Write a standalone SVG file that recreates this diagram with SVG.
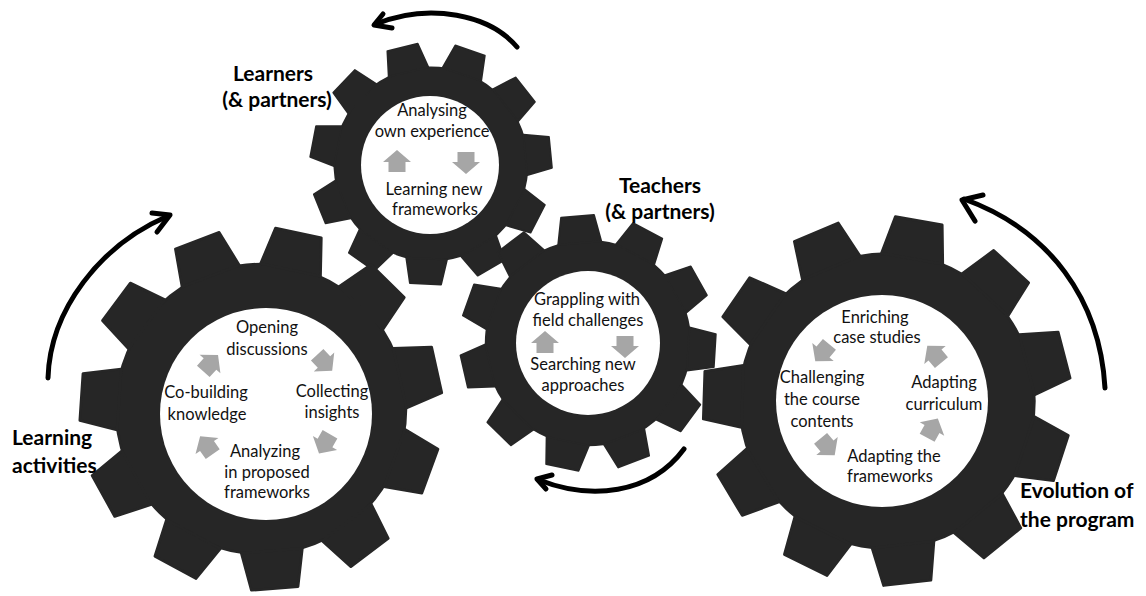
<svg xmlns="http://www.w3.org/2000/svg" width="1146" height="596" viewBox="0 0 1146 596">
<style>
.gear{fill:#262626;stroke:#262626;stroke-width:1.5;stroke-linejoin:round}
.hole{fill:#ffffff}
.t{font-family:Lato,"Open Sans","Liberation Sans",sans-serif;font-size:16.5px;fill:#111;text-anchor:middle}
.lab{font-family:Lato,"Open Sans","Liberation Sans",sans-serif;font-size:21px;font-weight:bold;fill:#000}
.ga{fill:#a6a6a6}
.arc{fill:none;stroke:#000;stroke-width:5;stroke-linecap:round;stroke-linejoin:round}
</style>
<defs>
<polygon id="tooth" points="-17,-79 -13,-100 13,-100 17,-79"/>
<g id="gearshape">
<circle r="80.5"/>
<use href="#tooth"/>
<use href="#tooth" transform="rotate(32.727)"/>
<use href="#tooth" transform="rotate(65.455)"/>
<use href="#tooth" transform="rotate(98.182)"/>
<use href="#tooth" transform="rotate(130.909)"/>
<use href="#tooth" transform="rotate(163.636)"/>
<use href="#tooth" transform="rotate(196.364)"/>
<use href="#tooth" transform="rotate(229.091)"/>
<use href="#tooth" transform="rotate(261.818)"/>
<use href="#tooth" transform="rotate(294.545)"/>
<use href="#tooth" transform="rotate(327.273)"/>
</g>
<path id="garrow" d="M0,-12 L14,0 L8.5,0 L8.5,10 L-8.5,10 L-8.5,0 L-14,0 Z"/>
</defs>

<g id="gear-learners">
<use href="#gearshape" class="gear" transform="translate(431,164) rotate(19) scale(1.2)"/>
<circle class="hole" cx="430" cy="165" r="69"/>
<text class="t" x="432" y="116">Analysing</text>
<text class="t" x="432" y="137">own experience</text>
<use href="#garrow" class="ga" transform="translate(397,162)"/>
<use href="#garrow" class="ga" transform="translate(466,162) rotate(180)"/>
<text class="t" x="434" y="195">Learning new</text>
<text class="t" x="435" y="215">frameworks</text>
</g>

<g id="gear-activities">
<use href="#gearshape" class="gear" transform="translate(261,409) rotate(12) scale(1.8)"/>
<circle class="hole" cx="266" cy="414" r="106"/>
<text class="t" x="267" y="333">Opening</text>
<text class="t" x="267" y="355">discussions</text>
<text class="t" x="206" y="398">Co-building</text>
<text class="t" x="207" y="420">knowledge</text>
<text class="t" x="332" y="397">Collecting</text>
<text class="t" x="332" y="418">insights</text>
<text class="t" x="265" y="457">Analyzing</text>
<text class="t" x="267" y="478">in proposed</text>
<text class="t" x="267" y="498">frameworks</text>
<use href="#garrow" class="ga" transform="translate(210,364) rotate(42)"/>
<use href="#garrow" class="ga" transform="translate(324,362) rotate(137)"/>
<use href="#garrow" class="ga" transform="translate(325,443) rotate(210)"/>
<use href="#garrow" class="ga" transform="translate(207,446) rotate(-35)"/>
</g>

<g id="gear-teachers">
<use href="#gearshape" class="gear" transform="translate(588,343) rotate(28) scale(1.27)"/>
<circle class="hole" cx="588" cy="343" r="72"/>
<text class="t" x="587" y="305">Grappling with</text>
<text class="t" x="588" y="326">field challenges</text>
<use href="#garrow" class="ga" transform="translate(545,343)"/>
<use href="#garrow" class="ga" transform="translate(625,346) rotate(180)"/>
<text class="t" x="583" y="370">Searching new</text>
<text class="t" x="583" y="391">approaches</text>
</g>

<g id="gear-evolution">
<use href="#gearshape" class="gear" transform="translate(887,401) rotate(10) scale(1.83)"/>
<circle class="hole" cx="882" cy="401" r="106"/>
<text class="t" x="875" y="323">Enriching</text>
<text class="t" x="877" y="343">case studies</text>
<text class="t" x="822" y="383">Challenging</text>
<text class="t" x="822" y="405">the course</text>
<text class="t" x="822" y="427">contents</text>
<text class="t" x="944" y="388">Adapting</text>
<text class="t" x="944" y="410">curriculum</text>
<text class="t" x="894" y="462">Adapting the</text>
<text class="t" x="890" y="482">frameworks</text>
<use href="#garrow" class="ga" transform="translate(823,352) rotate(220)"/>
<use href="#garrow" class="ga" transform="translate(827,446) rotate(140)"/>
<use href="#garrow" class="ga" transform="translate(932,429) rotate(29)"/>
<use href="#garrow" class="ga" transform="translate(935,355) rotate(-40)"/>
</g>

<g id="connectors">
<path class="arc" d="M517,47 C490,15 430,2 376,24"/>
<path class="arc" d="M383,14 L374,25 L392,28"/>
<path class="arc" d="M48,378 C50,310 100,245 168,216"/>
<path class="arc" d="M152,213 L170,215 L157,232"/>
<path class="arc" d="M684,449 C650,495 590,500 539,480"/>
<path class="arc" d="M552,475 L537,479 L546,489"/>
<path class="arc" d="M1105,388 C1100,300 1050,230 964,199"/>
<path class="arc" d="M983,195 L962,200 L975,221"/>
</g>

<g id="labels">
<text class="lab" x="273" y="81" text-anchor="middle">Learners</text>
<text class="lab" x="277" y="107" text-anchor="middle">(&amp; partners)</text>
<text class="lab" x="660" y="193" text-anchor="middle">Teachers</text>
<text class="lab" x="660" y="219" text-anchor="middle">(&amp; partners)</text>
<text class="lab" x="12" y="445">Learning</text>
<text class="lab" x="12" y="473">activities</text>
<text class="lab" x="1020" y="498">Evolution of</text>
<text class="lab" x="1020" y="527">the program</text>
</g>
</svg>
